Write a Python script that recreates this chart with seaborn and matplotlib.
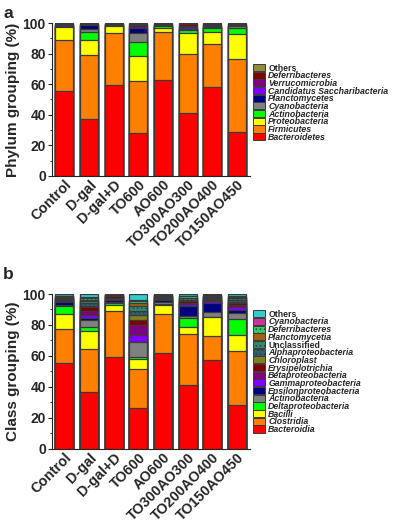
import numpy as np
import pandas as pd
import matplotlib
matplotlib.use("Agg")
import matplotlib.pyplot as plt
from matplotlib.patches import Patch
from matplotlib.ticker import MultipleLocator
import seaborn as sns

samples = ["Control", "D-gal", "D-gal+D", "TO600", "AO600",
           "TO300AO300", "TO200AO400", "TO150AO450"]

# ---- Phylum level (bottom -> top) ----
phylum_names = ["Bacteroidetes", "Firmicutes", "Proteobacteria", "Actinobacteria",
                "Cyanobacteria", "Planctomycetes", "Candidatus Saccharibacteria",
                "Verrucomicrobia", "Deferribacteres", "Others"]
phylum_colors = ["#FF0000", "#FF8000", "#FFFF00", "#00FF00", "#808080",
                 "#000080", "#8000FF", "#800080", "#800000", "#8C8C3A"]
Bacteroidetes = [55.7, 37.5, 59.4, 28.0, 62.9, 41.4, 57.9, 28.6]
Firmicutes = [33.0, 41.7, 34.3, 34.3, 31.5, 38.4, 28.2, 48.0]
Proteobacteria = [8.5, 9.7, 4.1, 16.2, 2.3, 13.7, 8.0, 16.2]
Actinobacteria_p = [0.8, 5.0, 0.6, 9.4, 1.3, 1.9, 2.9, 3.7]
Cyanobacteria_p = [0.3, 2.2, 0.3, 5.4, 0.3, 0.3, 0.6, 1.3]
Planctomycetes = [0.3, 2.4, 0.4, 3.4, 0.5, 0.5, 0.5, 0.5]
Saccharibacteria = [0.2, 0.3, 0.2, 1.0, 0.2, 1.2, 0.3, 0.3]
Verrucomicrobia = [0.3, 0.3, 0.2, 1.0, 0.3, 0.8, 0.4, 0.4]
Deferribacteres_p = [0.3, 0.4, 0.2, 0.5, 0.3, 1.5, 0.4, 0.4]
Others_p = [0.6, 0.5, 0.3, 0.8, 0.4, 0.3, 0.8, 0.6]
phylum_values = [Bacteroidetes, Firmicutes, Proteobacteria, Actinobacteria_p,
                 Cyanobacteria_p, Planctomycetes, Saccharibacteria, Verrucomicrobia,
                 Deferribacteres_p, Others_p]
phylum_hatch = [None] * 10

# ---- Class level (bottom -> top) ----
class_names = ["Bacteroidia", "Clostridia", "Bacilli", "Deltaproteobacteria",
               "Actinobacteria", "Epsilonproteobacteria", "Gammaproteobacteria",
               "Betaproteobacteria", "Erysipelotrichia", "Chloroplast",
               "Alphaproteobacteria", "Unclassified", "Planctomycetia",
               "Deferribacteres", "Cyanobacteria", "Others"]
class_colors = ["#FF0000", "#FF8000", "#FFFF00", "#00FF00", "#808080",
                "#000080", "#8000FF", "#800080", "#800000", "#808020",
                "#2F5F6F", "#2E8B6E", "#A0601A", "#33CC66", "#CC3399", "#33CCCC"]
class_hatch = [None] * 10 + ["....", "....", None, "....", None, None]
Bacteroidia = [55.7, 36.9, 59.2, 26.6, 62.2, 41.3, 57.2, 28.1]
Clostridia = [21.6, 27.9, 30.0, 25.2, 25.1, 33.0, 16.0, 35.2]
Bacilli = [10.0, 11.4, 3.5, 6.3, 5.6, 4.1, 11.7, 10.4]
Deltaproteobacteria = [5.1, 2.2, 1.5, 1.1, 0.4, 5.8, 0.4, 10.1]
Actinobacteria_c = [0.8, 5.0, 0.6, 9.5, 1.5, 1.8, 2.8, 3.9]
Epsilonproteobacteria = [1.4, 1.0, 1.5, 0.4, 1.2, 6.4, 6.1, 1.9]
Gammaproteobacteria = [0.6, 1.8, 0.4, 4.2, 0.8, 1.3, 1.0, 2.2]
Betaproteobacteria = [0.8, 3.0, 0.5, 6.4, 0.6, 0.8, 0.8, 1.0]
Erysipelotrichia = [1.0, 2.2, 1.2, 3.2, 0.7, 0.7, 0.6, 1.6]
Chloroplast = [0.3, 1.1, 0.3, 3.3, 0.3, 0.4, 0.5, 0.5]
Alphaproteobacteria = [0.4, 1.5, 0.3, 3.0, 0.3, 0.8, 0.8, 1.2]
Unclassified = [0.5, 1.3, 0.3, 2.8, 0.3, 0.8, 0.7, 1.0]
Planctomycetia = [0.3, 1.0, 0.2, 2.2, 0.2, 0.3, 0.3, 0.4]
Deferribacteres_c = [0.3, 1.0, 0.2, 1.5, 0.3, 1.0, 0.3, 0.8]
Cyanobacteria_c = [0.2, 0.6, 0.1, 0.3, 0.2, 0.5, 0.3, 0.6]
Others_c = [1.0, 2.1, 0.3, 4.0, 0.3, 1.0, 0.5, 1.1]
class_values = [Bacteroidia, Clostridia, Bacilli, Deltaproteobacteria, Actinobacteria_c,
                Epsilonproteobacteria, Gammaproteobacteria, Betaproteobacteria,
                Erysipelotrichia, Chloroplast, Alphaproteobacteria, Unclassified,
                Planctomycetia, Deferribacteres_c, Cyanobacteria_c, Others_c]

sns.set_theme(style="ticks")
plt.rcParams["font.family"] = ["Liberation Sans", "DejaVu Sans"]
plt.rcParams["hatch.linewidth"] = 0.6

fig = plt.figure(figsize=(3.94, 5.25), dpi=100)
ax_a = fig.add_axes([0.132, 0.665, 0.503, 0.291])
ax_b = fig.add_axes([0.132, 0.145, 0.503, 0.295])

EDGE = "#3a3a3a"


def stacked(ax, names, colors, values, hatches, ylabel, legend_top):
    arr = np.array(values)
    cum = np.cumsum(arr, axis=0)
    # draw from the top layer down so lower layers overlay
    for i in range(len(names) - 1, -1, -1):
        df = pd.DataFrame({"sample": samples, "value": cum[i]})
        kw = {}
        if hatches[i]:
            kw["hatch"] = hatches[i]
        sns.barplot(data=df, x="sample", y="value", order=samples, color=colors[i],
                    saturation=1, width=0.73, edgecolor=EDGE, linewidth=0.9,
                    errorbar=None, ax=ax, **kw)
    ax.set_ylim(0, 100)
    ax.set_xlim(-0.5, 7.53)
    ax.yaxis.set_major_locator(MultipleLocator(20))
    ax.yaxis.set_minor_locator(MultipleLocator(10))
    ax.tick_params(axis="y", which="major", length=3, width=0.8, labelsize=10, pad=1.5)
    ax.tick_params(axis="y", which="minor", length=1.8, width=0.6)
    ax.tick_params(axis="x", length=0, pad=1)
    for lab in ax.get_yticklabels():
        lab.set_fontweight("bold")
    ax.set_xticks(range(len(samples)))
    ax.set_xticklabels(samples, rotation=45, ha="right", rotation_mode="anchor",
                       fontweight="bold", fontsize=10.3)
    ax.set_xlabel("")
    ax.set_ylabel(ylabel, fontsize=11, fontweight="bold", labelpad=2)
    for s in ["top", "right"]:
        ax.spines[s].set_visible(False)
    for s in ["left", "bottom"]:
        ax.spines[s].set_color("#222222")
        ax.spines[s].set_linewidth(0.8)

    handles = []
    for i in range(len(names) - 1, -1, -1):
        handles.append(Patch(facecolor=colors[i], edgecolor=EDGE, linewidth=0.7,
                             hatch=hatches[i]))
    labels = names[::-1]
    leg = fig.legend(handles, labels, loc="upper left",
                     bbox_to_anchor=(0.642, legend_top), frameon=False,
                     fontsize=6.3, labelspacing=-0.15, handlelength=1.4,
                     handleheight=0.87, handletextpad=0.35, borderpad=0,
                     borderaxespad=0)
    for t in leg.get_texts():
        t.set_fontweight("bold")
        if t.get_text() not in ("Others", "Unclassified"):
            t.set_fontstyle("italic")
    return leg


stacked(ax_a, phylum_names, phylum_colors, phylum_values, phylum_hatch,
        "Phylum grouping (%)", 0.879)
stacked(ax_b, class_names, class_colors, class_values, class_hatch,
        "Class grouping (%)", 0.41)

fig.text(0.008, 0.975, "a", fontsize=12.5, fontweight="bold", va="center")
fig.text(0.008, 0.478, "b", fontsize=12.5, fontweight="bold", va="center")

fig.savefig("out.png", dpi=100)
